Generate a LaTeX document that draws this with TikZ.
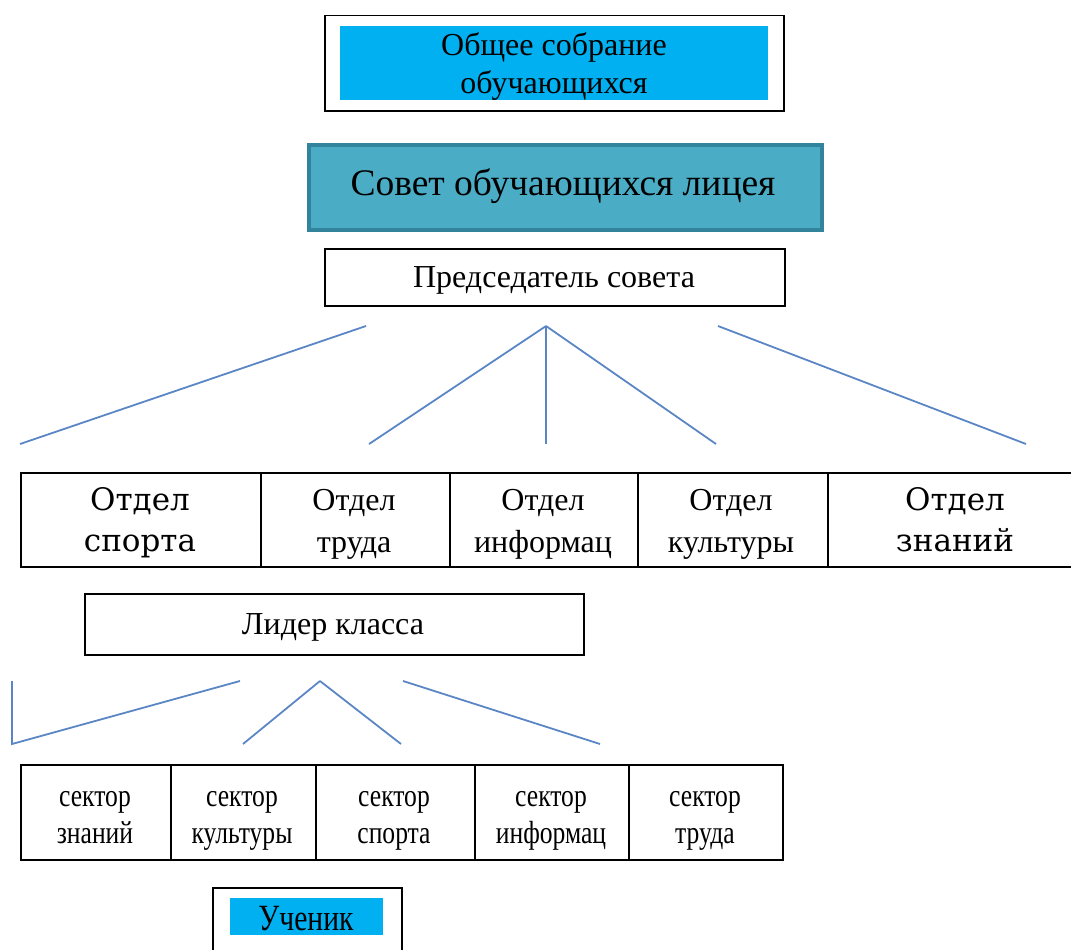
\documentclass[tikz,border=0pt]{standalone}
\usepackage{fontspec}
\setmainfont{Liberation Serif}
\newfontfamily\wideserif{DejaVu Serif}
\newfontfamily\narrowserif[FakeStretch=0.8]{Liberation Serif}
\definecolor{cyanfill}{HTML}{00B0F0}
\definecolor{tealfill}{HTML}{4BACC6}
\definecolor{tealline}{HTML}{31849B}
\definecolor{linkblue}{HTML}{5B86C5}
\tikzset{
  box/.style={draw=black, line width=1.5pt, fill=white, anchor=north west, inner sep=0pt, align=center},
  hilite/.style={fill=cyanfill, anchor=north west, inner sep=0pt, align=center},
  link/.style={draw=linkblue, line width=1.8pt},
  txt/.style={font=\fontsize{32}{38}\selectfont, align=center},
  dtxt/.style={font=\fontsize{32}{42}\selectfont, align=center},
  wtxt/.style={font=\wideserif\fontsize{31}{41}\selectfont, align=center},
  ntxt/.style={font=\narrowserif\fontsize{32}{37}\selectfont, align=center}
}
\begin{document}
\begin{tikzpicture}[x=1pt,y=-1pt]
\useasboundingbox (0,0) rectangle (1071,950);
% General meeting
\node[box, minimum width=459pt, minimum height=95pt] (gen) at (324,15) {};
\node[hilite, minimum width=428pt, minimum height=74pt] (genfill) at (340,26) {};
\node[txt] (gentext) at (554,66) {Общее собрание\\обучающихся};
% Council
\node[box, draw=tealline, line width=3.5pt, fill=tealfill, minimum width=513pt, minimum height=85pt] (council) at (307,143) {};
\node[font=\fontsize{37.5}{44}\selectfont] (counciltext) at (563,186) {Совет обучающихся лицея};
% Chairman
\node[box, minimum width=460pt, minimum height=57pt] (chair) at (324,248) {};
\node[font=\fontsize{32}{38}\selectfont] (chairtext) at (554,280) {Председатель совета};
% upper links
\coordinate (u1s) at (366,326); \coordinate (u1e) at (20,444);
\coordinate (uc) at (546,326);
\coordinate (u2e) at (369,444); \coordinate (u3e) at (546,444); \coordinate (u4e) at (716,444);
\coordinate (u5s) at (718,326); \coordinate (u5e) at (1026,444);
\draw[link] (u1s) -- (u1e);
\draw[link] (uc) -- (u2e);
\draw[link] (uc) -- (u3e);
\draw[link] (uc) -- (u4e);
\draw[link] (u5s) -- (u5e);
% departments
\node[box, minimum width=240pt, minimum height=94pt] (d1) at (20,472) {};
\node[box, minimum width=189pt, minimum height=94pt] (d2) at (260,472) {};
\node[box, minimum width=188pt, minimum height=94pt] (d3) at (449,472) {};
\node[box, minimum width=190pt, minimum height=94pt] (d4) at (637,472) {};
\node[box, minimum width=250pt, minimum height=94pt] (d5) at (827,472) {};
\node[wtxt] (d1t) at (140,523) {\strut Отдел\\\strut спорта};
\node[dtxt] (d2t) at (354,523) {\strut Отдел\\\strut труда};
\node[dtxt] (d3t) at (543,523) {\strut Отдел\\\strut информац};
\node[dtxt] (d4t) at (731,523) {\strut Отдел\\\strut культуры};
\node[wtxt] (d5t) at (955,523) {\strut Отдел\\\strut знаний};
% class leader
\node[box, minimum width=499pt, minimum height=61pt] (leader) at (84,593) {};
\node[font=\fontsize{32}{38}\selectfont] (leadertext) at (333,627) {Лидер класса};
% lower links
\coordinate (l0t) at (12,681); \coordinate (l0b) at (12,744);
\coordinate (l1s) at (240,681);
\coordinate (lc) at (320,681);
\coordinate (l2e) at (243,744); \coordinate (l3e) at (401,744);
\coordinate (l4s) at (403,681); \coordinate (l4e) at (600,744);
\draw[link] (l0t) -- (l0b) -- (l1s);
\draw[link] (lc) -- (l2e);
\draw[link] (lc) -- (l3e);
\draw[link] (l4s) -- (l4e);
% sectors
\node[box, minimum width=150pt, minimum height=95pt] (s1) at (20,764) {};
\node[box, minimum width=145pt, minimum height=95pt] (s2) at (170,764) {};
\node[box, minimum width=159pt, minimum height=95pt] (s3) at (315,764) {};
\node[box, minimum width=154pt, minimum height=95pt] (s4) at (474,764) {};
\node[box, minimum width=154pt, minimum height=95pt] (s5) at (628,764) {};
\node[ntxt] (s1t) at (95,818) {\strut сектор\\\strut знаний};
\node[ntxt] (s2t) at (242,818) {\strut сектор\\\strut культуры};
\node[ntxt] (s3t) at (394,818) {\strut сектор\\\strut спорта};
\node[ntxt] (s4t) at (551,818) {\strut сектор\\\strut информац};
\node[ntxt] (s5t) at (705,818) {\strut сектор\\\strut труда};
% pupil
\node[box, minimum width=189pt, minimum height=80pt] (pupil) at (212,887) {};
\node[hilite, minimum width=153pt, minimum height=37pt] (pupilfill) at (230,898) {};
\node[font=\narrowserif\fontsize{37}{42}\selectfont] (pupiltext) at (306,919) {Ученик};
\end{tikzpicture}
\end{document}
